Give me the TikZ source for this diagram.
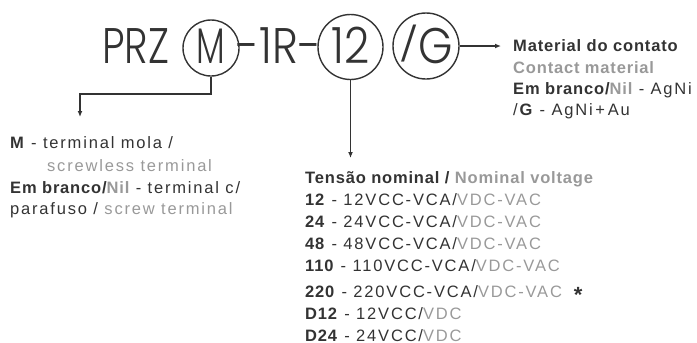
\documentclass[tikz,border=0pt]{standalone}
\usepackage{fontspec}
\setmainfont{Liberation Sans}[LetterSpace=11, BoldFeatures={LetterSpace=5}]
\newfontfamily\titlefont{Poppins Light}[FakeStretch=0.8]
\newfontfamily\titlefontw{Poppins Light}[FakeStretch=0.88]
\usetikzlibrary{arrows.meta}
\definecolor{dk}{HTML}{333333}
\definecolor{lg}{HTML}{999999}
\newcommand\gry[1]{\textcolor{lg}{#1}}
\begin{document}
\begin{tikzpicture}[x=1pt,y=-1pt,
  ttl/.style={font=\titlefont\fontsize{50}{50}\selectfont, text=dk, inner sep=0pt},
  ttlw/.style={font=\titlefontw\fontsize{50}{50}\selectfont, text=dk, inner sep=0pt},
  ring/.style={circle, draw=dk, line width=1.4pt, inner sep=0pt},
  txt/.style={font=\fontsize{16.5}{20}\selectfont, text=dk, inner sep=0pt, anchor=base west},
  conn/.style={draw=dk, line width=1.4pt},
  arr/.style={conn, -{Latex[length=6pt,width=5pt]}}]
\useasboundingbox (0,0) rectangle (697,343);
% title
\node[ttl, anchor=base west] (prz) at (102,63) {PRZ};
\node[ring, minimum size=56pt] (cm) at (211,48) {};
\node[ttl, anchor=base] (tm) at (211,63) {\scalebox{0.85}[1]{M}};
\node[ttlw, anchor=base] (mid) at (279,63) {-1R-};
\node[ring, minimum size=65pt] (c12) at (350.5,47) {};
\node[ttlw, anchor=base] (t12) at (350.5,63) {12};
\node[ring, minimum size=66pt] (cg) at (426,46) {};
\node[ttlw, anchor=base] (tg) at (426,63) {\raisebox{7pt}{\scalebox{1}[0.67]{/}}G};
% connectors
\coordinate (kneeM) at (80,94);
\coordinate (endM) at (80,117);
\coordinate (end12) at (350.5,158);
\coordinate (endG) at (501,46);
\draw[arr] (cm.south) |- (kneeM) -- (endM);
\draw[arr] (c12.south) -- (end12);
\draw[arr] (cg.east) -- (endG);
% left block
\node[txt] (l1) at (10,148) {\textbf{M} - terminal mola /};
\node[txt] (l2) at (47,171) {\gry{screwless terminal}};
\node[txt] (l3) at (10,193) {\textbf{Em branco/\gry{Nil}} - terminal c/};
\node[txt] (l4) at (10,214) {parafuso / \gry{screw terminal}};
% right block
\node[txt] (r1) at (513,51) {\textbf{Material do contato}};
\node[txt] (r2) at (513,73) {\textbf{\gry{Contact material}}};
\node[txt] (r3) at (513,94) {\textbf{Em branco/\gry{Nil}} - AgNi};
\node[txt] (r4) at (513,115) {/\textbf{G} - AgNi\,+\,Au};
% voltage block
\node[txt] (v0) at (305,183) {\textbf{Tensão nominal / \gry{Nominal voltage}}};
\node[txt] (v1) at (305,205) {\textbf{12} - 12VCC-VCA/\gry{VDC-VAC}};
\node[txt] (v2) at (305,227) {\textbf{24} - 24VCC-VCA/\gry{VDC-VAC}};
\node[txt] (v3) at (305,249) {\textbf{48} - 48VCC-VCA/\gry{VDC-VAC}};
\node[txt] (v4) at (305,271) {\textbf{110} - 110VCC-VCA/\gry{VDC-VAC}};
\node[txt] (v5) at (305,297) {\textbf{220} - 220VCC-VCA/\gry{VDC-VAC}\hspace{12pt}\raisebox{-5pt}{\fontsize{22}{22}\selectfont\textbf{*}}};
\node[txt] (v6) at (305,319) {\textbf{D12} - 12VCC/\gry{VDC}};
\node[txt] (v7) at (305,341) {\textbf{D24} - 24VCC/\gry{VDC}};
\end{tikzpicture}
\end{document}
